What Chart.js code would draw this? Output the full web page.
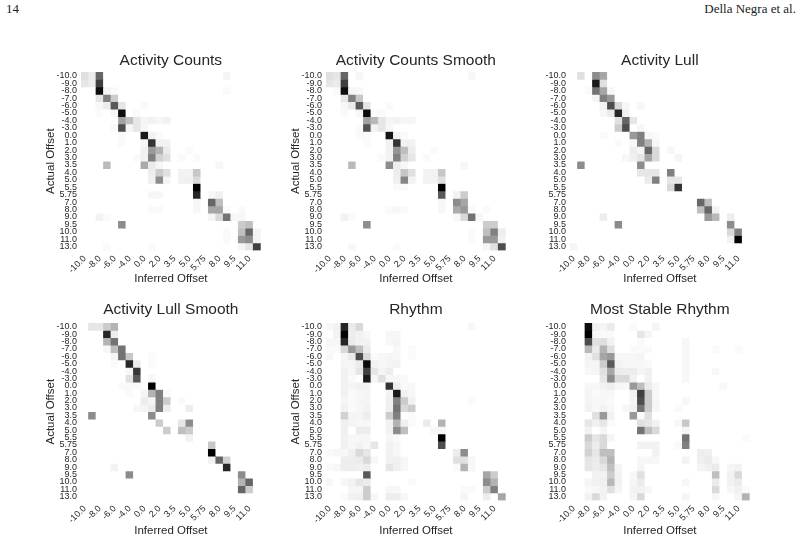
<!DOCTYPE html>
<html>
<head>
<meta charset="utf-8">
<script src="https://cdn.jsdelivr.net/npm/chart.js@4.4.1/dist/chart.umd.min.js"></script>
<style>
  html, body { margin: 0; padding: 0; background: #fff; }
  body { width: 800px; height: 542px; position: relative; overflow: hidden; }
  .hdr { position: absolute; top: 1px; font-family: "Liberation Serif", "DejaVu Serif", serif; font-size: 13px; color: #222; }
  canvas { position: absolute; }
</style>
</head>
<body>
<div class="hdr" style="left:6px">14</div>
<div class="hdr" style="right:4px">Della Negra et al.</div>
<canvas id="c1" width="240" height="247"></canvas>
<canvas id="c2" width="240" height="247"></canvas>
<canvas id="c3" width="240" height="247"></canvas>
<canvas id="c4" width="240" height="247"></canvas>
<canvas id="c5" width="240" height="247"></canvas>
<canvas id="c6" width="240" height="247"></canvas>
<script>
// offset categories (rows = actual, columns = inferred)
const actualOffsets = ['-10.0','-9.0','-8.0','-7.0','-6.0','-5.0','-4.0','-3.0','0.0','1.0','2.0','3.0','3.5','4.0','5.0','5.5','5.75','7.0','8.0','9.0','9.5','10.0','11.0','13.0'];
const inferredOffsets = ['-10.0','-9.0','-8.0','-7.0','-6.0','-5.0','-4.0','-3.0','0.0','1.0','2.0','3.0','3.5','4.0','5.0','5.5','5.75','7.0','8.0','9.0','9.5','10.0','11.0','13.0'];

// non-empty cells: [actual row, inferred col, shade 0..1]
const countsCells = [
  [0,0,.12],[0,1,.08],[0,2,.6],[0,19,.04],
  [1,0,.1],[1,1,.07],[1,2,.75],
  [2,2,.95],[2,3,.04],[2,4,.02],[2,19,.02],
  [3,2,.1],[3,3,.5],[3,4,.2],
  [4,2,.03],[4,3,.07],[4,4,.65],[4,5,.1],[4,8,.02],
  [5,2,.02],[5,4,.03],[5,5,.95],[5,7,.02],
  [6,5,.37],[6,6,.25],[6,7,.1],[6,8,.04],[6,9,.05],[6,10,.03],[6,11,.05],
  [7,4,.02],[7,5,.7],[7,6,.04],[7,7,.1],[7,8,.03],
  [8,5,.02],[8,8,.9],[8,9,.05],[8,10,.02],
  [9,5,.02],[9,8,.03],[9,9,.8],[9,10,.05],[9,11,.05],
  [10,8,.05],[10,9,.4],[10,10,.3],[10,11,.08],[10,14,.02],
  [11,7,.02],[11,8,.05],[11,9,.5],[11,10,.18],[11,11,.12],[11,13,.02],[11,15,.02],
  [12,3,.27],[12,8,.33],[12,9,.08],[12,10,.03],[12,18,.03],
  [13,9,.07],[13,10,.2],[13,11,.12],[13,13,.05],[13,14,.05],[13,15,.22],
  [14,9,.06],[14,10,.45],[14,11,.04],[14,13,.05],[14,14,.06],[14,15,.15],
  [15,15,1],
  [16,9,.03],[16,10,.03],[16,15,.85],[16,17,.03],[16,18,.06],
  [17,15,.03],[17,17,.6],[17,18,.25],
  [18,9,.02],[18,10,.02],[18,15,.03],[18,17,.35],[18,18,.35],[18,19,.02],[18,21,.02],
  [19,2,.05],[19,3,.02],[19,17,.04],[19,18,.15],[19,19,.55],[19,20,.03],[19,21,.03],
  [20,5,.45],[20,21,.2],[20,22,.25],
  [21,19,.02],[21,21,.25],[21,22,.6],[21,23,.05],
  [22,19,.02],[22,21,.4],[22,22,.45],[22,23,.05],
  [23,3,.02],[23,9,.02],[23,21,.04],[23,22,.1],[23,23,.75]
];

const countsSmoothCells = [
  [0,0,.12],[0,1,.1],[0,2,.6],[0,4,.03],[0,19,.03],
  [1,0,.1],[1,1,.08],[1,2,.75],
  [2,1,.02],[2,2,.95],[2,3,.04],[2,4,.03],
  [3,2,.1],[3,3,.5],[3,4,.22],
  [4,2,.03],[4,3,.08],[4,4,.65],[4,5,.1],[4,8,.02],
  [5,2,.02],[5,4,.03],[5,5,.95],[5,6,.02],[5,7,.02],
  [6,5,.37],[6,6,.28],[6,7,.1],[6,8,.04],[6,9,.05],[6,10,.03],[6,11,.04],
  [7,4,.02],[7,5,.68],[7,6,.05],[7,7,.1],[7,8,.03],
  [8,4,.02],[8,5,.02],[8,8,.92],[8,9,.05],[8,10,.02],
  [9,5,.02],[9,8,.05],[9,9,.8],[9,10,.05],[9,11,.05],
  [10,8,.05],[10,9,.42],[10,10,.25],[10,11,.07],[10,14,.02],
  [11,7,.02],[11,8,.05],[11,9,.5],[11,10,.18],[11,11,.1],[11,13,.02],
  [12,3,.27],[12,8,.45],[12,9,.07],[12,10,.03],[12,18,.03],
  [13,9,.07],[13,10,.22],[13,11,.12],[13,13,.05],[13,14,.05],[13,15,.22],
  [14,9,.06],[14,10,.48],[14,11,.05],[14,13,.05],[14,14,.05],[14,15,.12],
  [15,9,.02],[15,10,.02],[15,15,1],
  [16,15,.65],[16,17,.05],[16,18,.2],
  [17,15,.03],[17,17,.45],[17,18,.35],
  [18,8,.02],[18,9,.03],[18,10,.02],[18,15,.03],[18,17,.33],[18,18,.4],[18,19,.02],[18,21,.02],
  [19,2,.05],[19,3,.02],[19,17,.03],[19,18,.15],[19,19,.55],[19,20,.03],
  [20,5,.45],[20,21,.2],[20,22,.2],
  [21,19,.02],[21,21,.25],[21,22,.5],[21,23,.07],
  [22,19,.02],[22,21,.4],[22,22,.4],[22,23,.05],
  [23,3,.03],[23,9,.02],[23,21,.04],[23,22,.12],[23,23,.7]
];

const lullCells = [
  [0,1,.12],[0,3,.45],[0,4,.35],
  [1,3,.9],[1,4,.12],
  [2,2,.02],[2,3,.55],[2,4,.35],[2,5,.03],
  [3,3,.04],[3,4,.5],[3,5,.4],
  [4,4,.05],[4,5,.7],[4,6,.15],[4,7,.03],[4,9,.03],
  [5,4,.03],[5,5,.08],[5,6,.85],[5,7,.05],
  [6,6,.12],[6,7,.6],[6,8,.1],
  [7,6,.2],[7,7,.7],[7,9,.03],
  [8,4,.02],[8,8,.4],[8,9,.5],[8,10,.03],[8,11,.02],
  [9,6,.02],[9,8,.03],[9,9,.5],[9,10,.3],[9,11,.03],
  [10,8,.07],[10,9,.04],[10,10,.6],[10,11,.15],[10,13,.03],
  [11,7,.03],[11,8,.06],[11,9,.1],[11,10,.35],[11,11,.15],[11,14,.04],
  [12,1,.45],[12,9,.45],
  [13,9,.1],[13,10,.1],[13,11,.1],[13,13,.5],
  [14,10,.08],[14,11,.5],[14,13,.1],[14,14,.1],
  [15,13,.15],[15,14,.8],
  [17,17,.6],[17,18,.25],
  [18,17,.25],[18,18,.6],[18,19,.05],
  [19,4,.07],[19,18,.4],[19,19,.28],[19,21,.07],
  [20,6,.45],[20,21,.45],
  [21,21,.15],[21,22,.5],
  [22,21,.05],[22,22,1],
  [23,0,.04]
];

const lullSmoothCells = [
  [0,1,.1],[0,2,.1],[0,3,.2],[0,4,.3],
  [1,3,.85],[1,4,.07],
  [2,3,.3],[2,4,.55],
  [3,3,.03],[3,4,.25],[3,5,.55],
  [4,4,.04],[4,5,.55],[4,6,.22],[4,9,.02],
  [5,4,.02],[5,6,.85],[5,7,.07],[5,9,.02],
  [6,6,.03],[6,7,.78],
  [7,6,.12],[7,7,.65],[7,9,.03],
  [8,5,.02],[8,6,.02],[8,7,.02],[8,9,1],
  [9,6,.02],[9,8,.04],[9,9,.3],[9,10,.5],[9,11,.02],
  [10,8,.07],[10,9,.04],[10,10,.5],[10,11,.2],[10,13,.02],
  [11,7,.03],[11,8,.04],[11,9,.07],[11,10,.5],[11,11,.07],[11,14,.07],
  [12,1,.45],[12,9,.45],
  [13,10,.2],[13,13,.1],[13,14,.45],
  [14,11,.2],[14,13,.25],[14,14,.2],
  [15,14,.05],
  [16,17,.22],
  [17,17,1],
  [18,17,.05],[18,18,.6],[18,19,.18],
  [19,4,.05],[19,19,.85],
  [20,6,.45],[20,21,.45],
  [21,21,.3],[21,22,.6],
  [22,21,.6],[22,22,.2]
];

const rhythmCells = [
  [0,0,.03],[0,1,.05],[0,2,.85],[0,3,.08],[0,4,.15],[0,19,.03],
  [1,1,.05],[1,2,1],[1,3,.07],[1,4,.05],[1,5,.03],[1,8,.03],[1,9,.03],
  [2,0,.03],[2,1,.03],[2,2,.85],[2,3,.08],[2,4,.05],[2,5,.05],[2,8,.03],[2,9,.04],
  [3,0,.02],[3,1,.02],[3,2,.15],[3,3,.4],[3,4,.25],[3,5,.08],[3,9,.03],[3,11,.02],
  [4,0,.03],[4,2,.04],[4,3,.08],[4,4,.7],[4,5,.15],[4,6,.02],[4,7,.03],[4,8,.04],[4,9,.03],[4,11,.02],
  [5,2,.04],[5,3,.04],[5,4,.08],[5,5,.95],[5,6,.05],[5,7,.03],[5,8,.04],[5,9,.05],
  [6,2,.05],[6,3,.03],[6,4,.1],[6,5,.75],[6,6,.1],[6,7,.04],[6,8,.07],
  [7,2,.05],[7,3,.02],[7,5,.9],[7,6,.04],[7,7,.12],[7,8,.03],[7,9,.03],[7,10,.02],
  [8,2,.05],[8,3,.04],[8,4,.05],[8,5,.05],[8,8,.8],[8,9,.07],[8,10,.02],[8,11,.03],
  [9,2,.05],[9,3,.02],[9,4,.03],[9,5,.04],[9,8,.05],[9,9,.9],[9,10,.05],[9,11,.03],
  [10,2,.04],[10,3,.02],[10,4,.04],[10,5,.04],[10,8,.06],[10,9,.5],[10,10,.2],[10,11,.05],[10,19,.02],
  [11,2,.05],[11,3,.02],[11,4,.03],[11,5,.05],[11,8,.06],[11,9,.55],[11,10,.15],[11,11,.2],
  [12,2,.18],[12,3,.04],[12,4,.04],[12,5,.07],[12,8,.2],[12,9,.5],[12,11,.02],
  [13,2,.06],[13,3,.04],[13,4,.03],[13,5,.03],[13,8,.05],[13,9,.3],[13,10,.06],[13,11,.02],[13,13,.08],[13,15,.3],
  [14,2,.06],[14,4,.07],[14,5,.07],[14,8,.05],[14,9,.45],[14,10,.25],[14,14,.03],[14,15,.03],
  [15,2,.05],[15,3,.03],[15,4,.03],[15,5,.03],[15,8,.03],[15,9,.02],[15,15,1],
  [16,2,.06],[16,3,.03],[16,4,.05],[16,5,.03],[16,6,.1],[16,8,.05],[16,9,.03],[16,15,.7],
  [17,0,.02],[17,1,.03],[17,2,.03],[17,3,.06],[17,4,.15],[17,5,.1],[17,8,.05],[17,9,.03],[17,17,.07],[17,18,.45],
  [18,2,.07],[18,3,.07],[18,4,.08],[18,5,.15],[18,6,.03],[18,8,.05],[18,9,.06],[18,10,.03],[18,17,.12],[18,18,.12],[18,19,.03],
  [19,0,.02],[19,1,.03],[19,2,.07],[19,3,.07],[19,4,.06],[19,5,.07],[19,8,.1],[19,9,.06],[19,10,.03],[19,17,.02],[19,18,.3],[19,19,.03],
  [20,5,.65],[20,21,.35],[20,22,.2],
  [21,0,.03],[21,2,.03],[21,3,.05],[21,4,.1],[21,5,.08],[21,11,.02],[21,21,.45],[21,22,.3],
  [22,3,.04],[22,4,.04],[22,5,.2],[22,8,.03],[22,9,.03],[22,18,.02],[22,19,.02],[22,21,.2],[22,22,.5],
  [23,2,.02],[23,3,.05],[23,4,.06],[23,5,.2],[23,6,.03],[23,8,.07],[23,9,.07],[23,10,.03],[23,18,.04],[23,21,.07],[23,23,.35]
];

const stableRhythmCells = [
  [0,2,.95],[0,3,.05],[0,4,.04],[0,5,.08],[0,8,.02],[0,11,.04],
  [1,2,1],[1,3,.03],[1,4,.02],[1,5,.02],[1,9,.1],[1,10,.04],
  [2,2,.7],[2,3,.12],[2,4,.12],[2,5,.05],[2,9,.02],[2,15,.03],
  [3,2,.28],[3,3,.08],[3,4,.3],[3,5,.12],[3,8,.02],[3,9,.02],[3,10,.02],[3,15,.03],[3,19,.02],[3,22,.02],
  [4,2,.05],[4,3,.12],[4,4,.35],[4,5,.4],[4,6,.03],[4,7,.03],[4,8,.03],[4,9,.04],[4,15,.03],
  [5,2,.04],[5,3,.04],[5,4,.2],[5,5,.65],[5,6,.05],[5,7,.03],[5,8,.03],[5,9,.03],[5,10,.02],[5,15,.03],
  [6,2,.03],[6,3,.04],[6,4,.12],[6,5,.35],[6,6,.08],[6,7,.07],[6,8,.07],[6,9,.04],[6,10,.06],[6,15,.03],[6,19,.03],
  [7,4,.1],[7,5,.45],[7,6,.15],[7,7,.15],[7,8,.05],[7,10,.05],[7,15,.03],
  [8,2,.03],[8,3,.03],[8,4,.05],[8,5,.07],[8,6,.03],[8,7,.03],[8,8,.4],[8,9,.25],[8,10,.08],[8,11,.03],[8,20,.03],
  [9,2,.04],[9,3,.02],[9,4,.03],[9,5,.03],[9,8,.05],[9,9,.75],[9,10,.2],[9,11,.03],
  [10,2,.04],[10,3,.03],[10,4,.03],[10,5,.02],[10,8,.04],[10,9,.7],[10,10,.2],[10,11,.04],[10,15,.03],
  [11,2,.05],[11,3,.03],[11,4,.05],[11,5,.03],[11,7,.03],[11,8,.05],[11,9,.55],[11,10,.2],[11,11,.03],[11,14,.02],
  [12,3,.12],[12,4,.4],[12,5,.05],[12,8,.4],[12,9,.02],[12,10,.12],
  [13,2,.1],[13,3,.06],[13,4,.1],[13,5,.02],[13,9,.12],[13,10,.1],[13,11,.05],[13,14,.03],[13,15,.22],
  [14,2,.05],[14,4,.04],[14,9,.55],[14,10,.25],[14,11,.15],[14,15,.04],
  [15,2,.2],[15,3,.1],[15,4,.15],[15,5,.04],[15,15,.55],[15,23,.02],
  [16,2,.15],[16,3,.07],[16,4,.15],[16,9,.05],[16,10,.05],[16,11,.05],[16,14,.02],[16,15,.5],
  [17,2,.18],[17,3,.1],[17,4,.25],[17,5,.25],[17,11,.05],[17,17,.07],[17,18,.06],
  [18,2,.1],[18,3,.08],[18,4,.15],[18,5,.3],[18,9,.03],[18,10,.03],[18,11,.03],[18,15,.05],[18,17,.06],[18,18,.08],[18,19,.03],
  [19,2,.1],[19,3,.07],[19,4,.1],[19,5,.25],[19,6,.04],[19,9,.04],[19,17,.04],[19,18,.06],[19,19,.08],[19,21,.04],[19,22,.05],
  [20,3,.05],[20,4,.05],[20,5,.2],[20,6,.05],[20,8,.03],[20,9,.12],[20,19,.25],[20,21,.05],[20,22,.15],
  [21,2,.04],[21,3,.05],[21,4,.06],[21,5,.28],[21,6,.05],[21,8,.04],[21,9,.08],[21,15,.03],[21,19,.08],[21,21,.05],[21,22,.08],
  [22,2,.02],[22,3,.03],[22,4,.05],[22,5,.12],[22,6,.04],[22,8,.05],[22,9,.05],[22,10,.03],[22,19,.15],[22,21,.03],[22,22,.05],[22,23,.02],
  [23,2,.05],[23,3,.15],[23,4,.05],[23,8,.04],[23,9,.15],[23,15,.04],[23,19,.03],[23,22,.04],[23,23,.3]
];

const ink = '#262626';
const family = '"Liberation Sans", Arial, sans-serif';
const CW = 240, CH = 247, YW = 50, TOP = 32, HM_W = 179.7;

// heatmap left/top in page px, heatmap height, title/axis-title tweaks
const panels = [
  { id: 'c1', name: 'Activity Counts',        cells: countsCells,       x: 81,    y: 72,  h: 178.4, tPad: 11, xPad: 1, yTitle: true },
  { id: 'c2', name: 'Activity Counts Smooth', cells: countsSmoothCells, x: 325.7, y: 72,  h: 178.4, tPad: 11, xPad: 1, yTitle: true },
  { id: 'c3', name: 'Activity Lull',          cells: lullCells,         x: 570,   y: 72,  h: 178.4, tPad: 11, xPad: 1, yTitle: false },
  { id: 'c4', name: 'Activity Lull Smooth',   cells: lullSmoothCells,   x: 81,    y: 323, h: 177.4, tPad: 9,  xPad: 0, yTitle: true },
  { id: 'c5', name: 'Rhythm',                 cells: rhythmCells,       x: 325.7, y: 323, h: 177.4, tPad: 9,  xPad: 0, yTitle: true },
  { id: 'c6', name: 'Most Stable Rhythm',     cells: stableRhythmCells, x: 570,   y: 323, h: 177.4, tPad: 9,  xPad: 0, yTitle: false }
];

function shade(v) {
  const g = Math.round(255 * (1 - v));
  return `rgb(${g},${g},${g})`;
}

function buildMatrix(cells) {
  const m = actualOffsets.map(() => inferredOffsets.map(() => 0));
  cells.forEach(([r, c, v]) => { m[r][c] = v; });
  return m;
}

panels.forEach(p => {
  const canvas = document.getElementById(p.id);
  canvas.style.left = (p.x - YW) + 'px';
  canvas.style.top = (p.y - TOP) + 'px';
  const m = buildMatrix(p.cells);

  new Chart(canvas, {
    type: 'bar',
    data: {
      labels: inferredOffsets,
      // one stacked dataset per actual-offset row, each cell one unit tall
      datasets: m.map(row => ({
        data: row.map(() => 1),
        backgroundColor: row.map(shade),
        borderWidth: 0,
        barPercentage: 1,
        categoryPercentage: 1
      }))
    },
    options: {
      responsive: false,
      animation: false,
      events: [],
      layout: { padding: { right: CW - YW - HM_W } },
      plugins: {
        legend: { display: false },
        tooltip: { enabled: false },
        title: {
          display: true,
          fullSize: false,
          text: p.name,
          color: ink,
          font: { family, size: 15.5, weight: 'normal' },
          padding: { top: p.tPad, bottom: TOP - 18.6 - p.tPad }
        }
      },
      scales: {
        x: {
          stacked: true,
          grid: { display: false, drawTicks: false },
          border: { display: false },
          ticks: {
            autoSkip: false,
            minRotation: 45,
            maxRotation: 45,
            padding: 3,
            color: ink,
            font: { family, size: 9 },
            callback: (v, i) => (i % 2 ? '' : inferredOffsets[i])
          },
          title: {
            display: true,
            text: 'Inferred Offset',
            color: ink,
            font: { family, size: 11.5 },
            padding: { top: 0, bottom: p.xPad }
          },
          afterFit: s => { s.height = CH - TOP - p.h; }
        },
        y: {
          stacked: true,
          min: 0,
          max: actualOffsets.length,
          reverse: true,
          grid: { display: false, drawTicks: false },
          border: { display: false },
          afterBuildTicks: s => { s.ticks = actualOffsets.map((_, i) => ({ value: i + 0.5 })); },
          ticks: {
            autoSkip: false,
            padding: 4,
            color: ink,
            font: { family, size: 9 },
            callback: (v, i) => actualOffsets[i]
          },
          title: {
            display: p.yTitle,
            text: 'Actual Offset',
            color: ink,
            font: { family, size: 11.5 },
            padding: { top: 13, bottom: 0 }
          },
          afterFit: s => { s.width = YW; }
        }
      }
    }
  });
});
</script>
</body>
</html>
